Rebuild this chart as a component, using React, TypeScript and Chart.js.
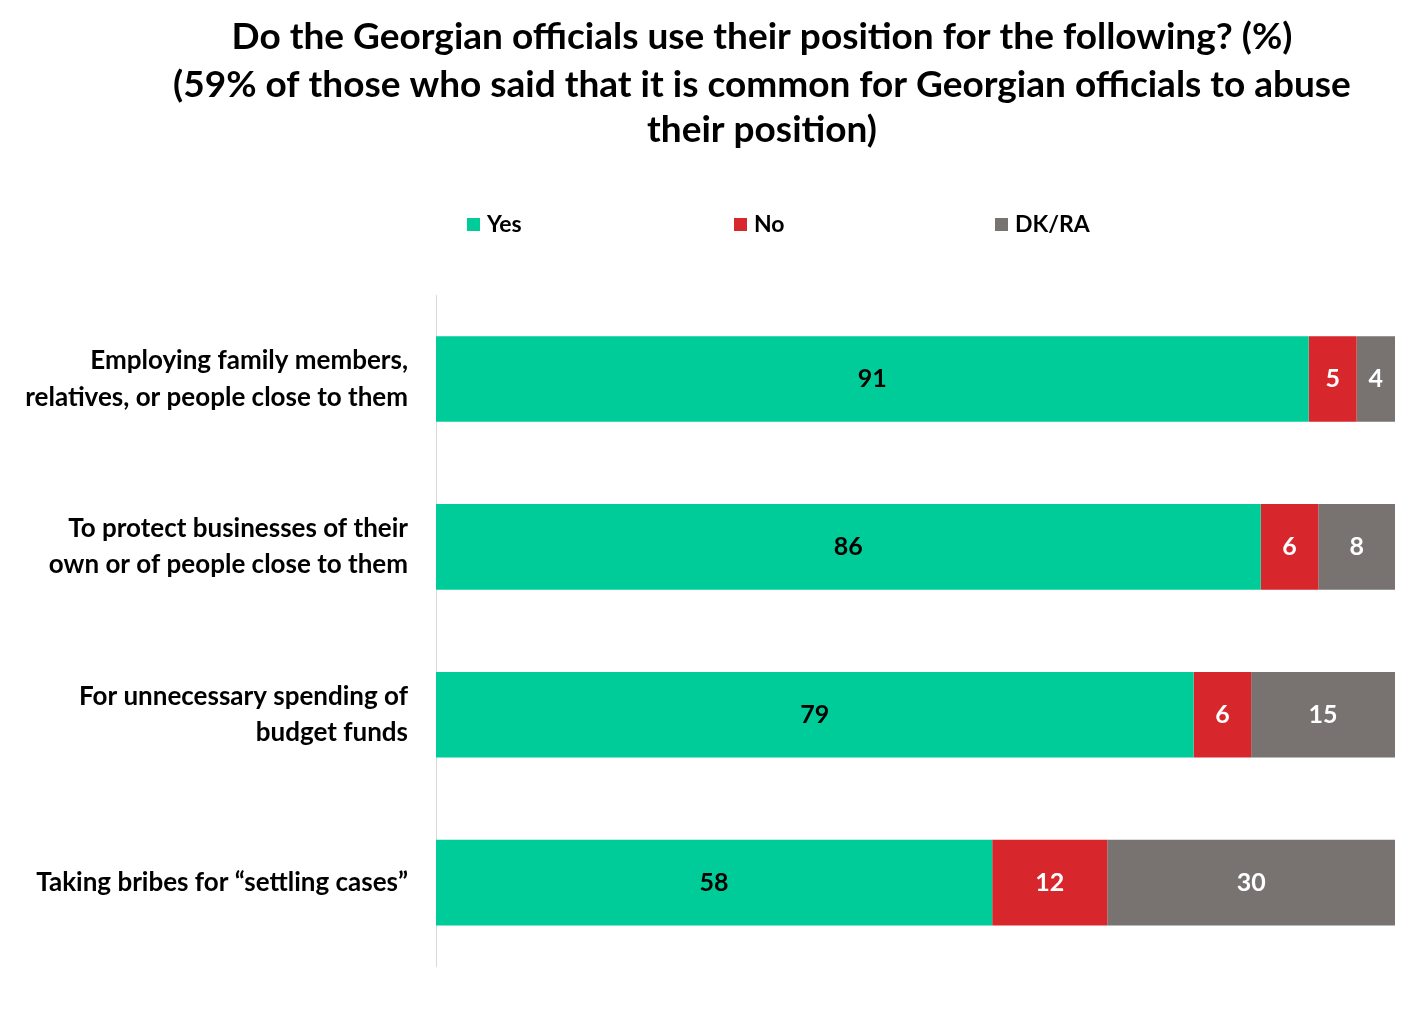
import React, { useEffect, useRef } from "react";
import { Chart, registerables } from "chart.js";
Chart.register(...registerables);

const categories = [
  ["Employing family members,", "relatives, or people close to them"],
  ["To protect businesses of their", "own or of people close to them"],
  ["For unnecessary spending of", "budget funds"],
  ["Taking bribes for \u201csettling cases\u201d"],
];
const yesValues = [91, 86, 79, 58];
const noValues = [5, 6, 6, 12];
const dkValues = [4, 8, 15, 30];
const seriesNames = ["Yes", "No", "DK/RA"];
const colors = ["#00CC99", "#D7262C", "#787371"];
const titleLines = [
  "Do the Georgian officials use their position for the following? (%)",
  "(59% of those who said that it is common for Georgian officials to abuse",
  "their position)",
];
const FONT = "Lato, 'Open Sans', sans-serif";

const overlay = {
  id: "overlay",
  afterDraw(chart: any) {
    const ctx = chart.ctx;
    ctx.save();
    ctx.fillStyle = "#000";
    ctx.textAlign = "center";
    ctx.textBaseline = "middle";
    ctx.font = `bold 37px ${FONT}`;
    const ty = [29, 77, 122];
    titleLines.forEach((t, i) => ctx.fillText(t, 754, ty[i]));
    const lx = [459, 726, 987];
    ctx.font = `bold 23px ${FONT}`;
    ctx.textAlign = "left";
    seriesNames.forEach((n, i) => {
      ctx.fillStyle = colors[i];
      ctx.fillRect(lx[i], 210, 13, 13);
      ctx.fillStyle = "#000";
      ctx.fillText(n, lx[i] + 20, 217);
    });
    ctx.font = `bold 25px ${FONT}`;
    ctx.textAlign = "center";
    chart.data.datasets.forEach((ds: any, di: number) => {
      const meta = chart.getDatasetMeta(di);
      meta.data.forEach((bar: any, j: number) => {
        const p = bar.getProps(["x", "y", "base"], true);
        ctx.fillStyle = di === 0 ? "#000" : "#fff";
        ctx.fillText(String(ds.data[j]), (p.x + p.base) / 2, p.y);
      });
    });
    ctx.restore();
  },
};

export default function App() {
  const ref = useRef<HTMLCanvasElement>(null);
  useEffect(() => {
    const vals = [yesValues, noValues, dkValues];
    const chart = new Chart(ref.current!, {
      type: "bar",
      data: {
        labels: categories as any,
        datasets: seriesNames.map((n, i) => ({
          label: n,
          data: vals[i],
          backgroundColor: colors[i],
          barPercentage: 0.51,
          categoryPercentage: 1,
        })),
      },
      options: {
        indexAxis: "y",
        animation: false,
        responsive: false,
        layout: { padding: { top: 287, right: 17, bottom: 15, left: 0 } },
        plugins: { legend: { display: false }, title: { display: false }, tooltip: { enabled: false } },
        scales: {
          x: { stacked: true, min: 0, max: 100, display: false },
          y: {
            stacked: true,
            afterFit: (s: any) => { s.width = 428; },
            grid: { display: false },
            border: { display: true, color: "#d9d9d9" },
            ticks: { color: "#000", padding: 20, font: { family: FONT, size: 26, weight: "bold", lineHeight: 1.4 } as any },
          },
        },
      },
      plugins: [overlay],
    });
    return () => chart.destroy();
  }, []);
  return (
    <div style={{ width: 1404, height: 1015 }}>
      <canvas ref={ref} width={1404} height={1015} style={{ width: 1404, height: 1015 }} />
    </div>
  );
}
